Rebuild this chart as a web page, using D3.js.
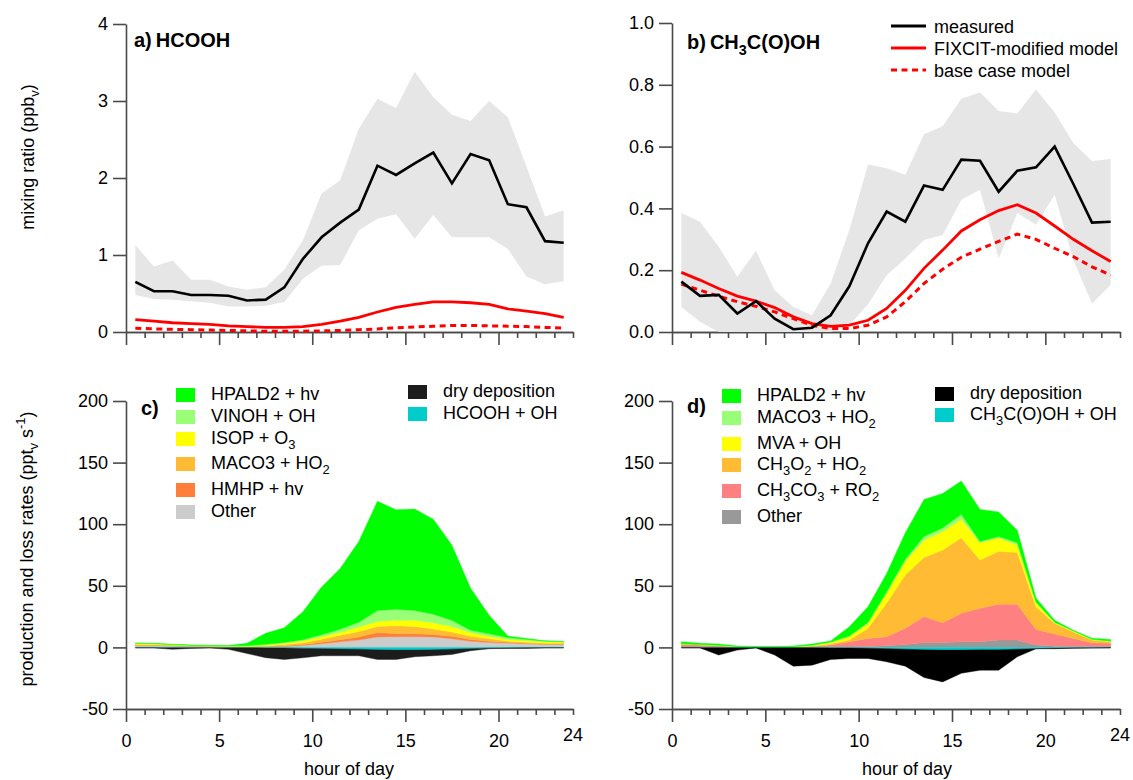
<html>
<head>
<meta charset="utf-8">
<script src="https://cdn.jsdelivr.net/npm/d3@7/dist/d3.min.js"></script>
<style>
  body { margin: 0; background: #fff; }
  text { font-family: Arial, "Liberation Sans", sans-serif; fill: #000; }
</style>
</head>
<body>
<svg id="chart" width="1133" height="780"></svg>
<script>
// hour of day (bin centres)
const hours = [0.5, 1.5, 2.5, 3.5, 4.5, 5.5, 6.5, 7.5, 8.5, 9.5, 10.5, 11.5,
               12.5, 13.5, 14.5, 15.5, 16.5, 17.5, 18.5, 19.5, 20.5, 21.5, 22.5, 23.5];

// a) HCOOH mixing ratio (ppbv)
const hcoohMeasured = [0.65, 0.53, 0.53, 0.48, 0.48, 0.47, 0.41, 0.42, 0.58, 0.95, 1.23, 1.42, 1.59, 2.16, 2.04, 2.19, 2.33, 1.93, 2.31, 2.23, 1.66, 1.62, 1.18, 1.16];
const hcoohUpper    = [1.13, 0.85, 0.93, 0.68, 0.68, 0.59, 0.55, 0.58, 0.81, 1.19, 1.80, 1.97, 2.64, 3.03, 2.91, 3.38, 3.05, 2.82, 2.74, 3.00, 2.79, 2.15, 1.50, 1.58];
const hcoohLower    = [0.48, 0.43, 0.42, 0.40, 0.38, 0.33, 0.33, 0.34, 0.39, 0.69, 0.86, 0.87, 1.32, 1.47, 1.53, 1.21, 1.52, 1.23, 1.23, 1.23, 1.08, 0.72, 0.62, 0.66];
const hcoohFixcit   = [0.16, 0.14, 0.12, 0.11, 0.10, 0.08, 0.07, 0.06, 0.06, 0.07, 0.10, 0.14, 0.19, 0.26, 0.32, 0.36, 0.39, 0.39, 0.38, 0.36, 0.30, 0.27, 0.24, 0.19];
const hcoohBase     = [0.05, 0.04, 0.035, 0.03, 0.025, 0.02, 0.015, 0.01, 0.01, 0.01, 0.015, 0.02, 0.03, 0.04, 0.055, 0.065, 0.075, 0.085, 0.085, 0.08, 0.075, 0.07, 0.06, 0.05];

// b) CH3C(O)OH mixing ratio (ppbv)
const aceticMeasured = [0.163, 0.117, 0.12, 0.06, 0.10, 0.043, 0.009, 0.014, 0.054, 0.148, 0.287, 0.39, 0.357, 0.474, 0.46, 0.558, 0.554, 0.454, 0.522, 0.533, 0.60, 0.479, 0.354, 0.357];
const aceticUpper    = [0.385, 0.357, 0.276, 0.179, 0.263, 0.135, 0.081, 0.054, 0.157, 0.33, 0.542, 0.53, 0.509, 0.64, 0.666, 0.755, 0.775, 0.715, 0.707, 0.785, 0.71, 0.612, 0.553, 0.56];
const aceticLower    = [0.081, 0.033, 0, 0, 0, 0, 0, 0, 0, 0.022, 0.09, 0.184, 0.238, 0.298, 0.314, 0.428, 0.46, 0.238, 0.385, 0.347, 0.444, 0.233, 0.092, 0.152];
const aceticFixcit   = [0.193, 0.168, 0.141, 0.116, 0.10, 0.079, 0.049, 0.027, 0.018, 0.022, 0.038, 0.076, 0.135, 0.206, 0.265, 0.327, 0.363, 0.393, 0.412, 0.385, 0.343, 0.30, 0.263, 0.228];
const aceticBase     = [0.155, 0.135, 0.116, 0.098, 0.083, 0.065, 0.043, 0.022, 0.011, 0.011, 0.022, 0.049, 0.098, 0.157, 0.203, 0.242, 0.268, 0.293, 0.317, 0.30, 0.271, 0.244, 0.211, 0.184];

// c) HCOOH production and loss rates (pptv s-1)
const cOther  = [1.5, 1.5, 1.2, 1.0, 0.8, 0.6, 0.5, 0.5, 0.8, 1.5, 3.0, 4.5, 6.0, 8.5, 8.7, 8.7, 8.5, 7.0, 5.0, 4.0, 3.5, 3.0, 2.5, 2.5];
const cHmhp   = [0.3, 0.3, 0.2, 0.1, 0.1, 0.1, 0.1, 0.2, 0.5, 0.8, 1.2, 1.8, 2.5, 3.5, 2.5, 2.3, 2.0, 2.0, 1.5, 1.0, 0.6, 0.4, 0.3, 0.3];
const cMaco3  = [0.5, 0.4, 0.3, 0.2, 0.2, 0.2, 0.2, 0.5, 1.0, 1.5, 2.5, 3.5, 4.5, 5.0, 6.4, 6.0, 4.5, 3.5, 2.5, 2.0, 1.0, 0.8, 0.6, 0.5];
const cIsop   = [1.0, 0.8, 0.5, 0.3, 0.3, 0.3, 0.4, 0.8, 1.0, 1.5, 2.0, 2.5, 3.5, 4.0, 4.4, 5.0, 5.0, 4.5, 3.0, 2.0, 1.4, 1.3, 1.2, 1.1];
const cVinoh  = [0.1, 0.1, 0.1, 0.1, 0.1, 0.1, 0.2, 0.5, 0.7, 1.0, 1.5, 2.5, 4.0, 9.0, 9.0, 8.0, 7.0, 5.0, 2.0, 2.0, 1.5, 1.0, 0.5, 0.2];
const cHpald2 = [0.1, 0.2, 0.2, 0.2, 0.2, 0.3, 2.0, 8.9, 12.0, 22.7, 38.8, 49.2, 65.5, 88.6, 80.8, 82.3, 77.0, 61.0, 34.0, 15.0, 1.2, 0.8, 0.3, 0.1];
const cOh     = [-0.3, -0.3, -0.3, -0.3, -0.3, -0.3, -0.3, -0.4, -0.5, -0.8, -1.0, -1.3, -1.5, -2.0, -2.2, -2.2, -2.0, -1.5, -1.0, -0.6, -0.4, -0.3, -0.3, -0.3];
const cDry    = [-0.1, -0.1, -1.3, -0.5, -0.1, -1.3, -4.7, -8.0, -9.3, -7.6, -5.8, -5.5, -5.3, -7.8, -7.6, -5.4, -4.8, -4.2, -1.7, -0.5, -0.4, -0.5, -0.1, -0.1];

// d) CH3C(O)OH production and loss rates (pptv s-1)
const dOther  = [0.3, 0.3, 0.2, 0.1, 0.1, 0.1, 0.1, 0.2, 0.3, 0.4, 0.5, 1.4, 2.4, 4.0, 4.0, 4.6, 4.6, 6.0, 6.0, 2.0, 1.0, 0.6, 0.5, 0.5];
const dCh3co3 = [2.1, 1.6, 1.2, 0.4, 0.4, 0.4, 0.4, 0.6, 1.6, 4.2, 6.8, 7.3, 13.1, 21.0, 16.0, 23.1, 27.1, 29.0, 29.0, 12.6, 9.9, 6.7, 3.3, 2.8];
const dCh3o2  = [0.2, 0.1, 0.1, 0.1, 0.05, 0.05, 0.1, 0.4, 1.1, 1.4, 8.2, 27.3, 43.5, 48.0, 59.0, 61.3, 39.3, 43.0, 42.0, 18.4, 8.6, 5.5, 2.2, 1.3];
const dMva    = [0.2, 0.2, 0.2, 0.1, 0.05, 0.05, 0.1, 0.4, 1.0, 2.7, 4.0, 8.0, 11.0, 14.0, 15.0, 15.0, 14.0, 11.0, 6.0, 3.0, 0.5, 0.4, 0.4, 0.4];
const dMaco3  = [0.2, 0.1, 0.1, 0.1, 0.05, 0.05, 0.1, 0.2, 0.3, 0.5, 0.8, 1.2, 1.5, 3.0, 3.0, 4.0, 1.0, 1.0, 2.0, 0.8, 0.5, 0.3, 0.2, 0.2];
const dHpald2 = [1.6, 1.0, 0.9, 0.3, 0.1, 0.1, 0.3, 0.9, 0.9, 7.6, 12.7, 14.8, 21.5, 30.0, 28.0, 27.0, 26.0, 20.0, 10.0, 3.2, 1.5, 0.5, 0.9, 1.3];
const dOh     = [-0.3, -0.3, -0.3, -0.3, -0.3, -0.3, -0.3, -0.3, -0.4, -0.5, -0.7, -1.0, -1.5, -2.0, -2.2, -2.2, -2.0, -2.0, -1.5, -1.0, -0.7, -0.5, -0.4, -0.3];
const dDry    = [-0.1, -0.1, -5.9, -1.9, -0.1, -5.9, -14.9, -14.1, -9.4, -8.5, -8.3, -10.7, -13.7, -22.4, -25.8, -18.8, -16.5, -16.5, -6.1, -0.1, -0.4, -0.1, -0.1, -0.1];

// tick labels
const xMajor = [0, 5, 10, 15, 20];
const ticksA = [0, 1, 2, 3, 4];
const ticksB = [0, 0.2, 0.4, 0.6, 0.8, 1.0];
const ticksCD = [-50, 0, 50, 100, 150, 200];

const svg = d3.select("#chart");
const axisColor = "#4a4a4a";
const plain = d => String(d);   // hyphen minus, as in the original

// text with _{sub} and ^{sup} parts
function richText(sel, str, size) {
    const parts = str.match(/_\{[^}]*\}|\^\{[^}]*\}|[^_^]+/g);
    let shift = 0;
    parts.forEach(p => {
        let dy = 0, txt = p, fs = size;
        if (p.startsWith("_{")) { txt = p.slice(2, -1); dy = size * 0.3; fs = size * 0.72; }
        else if (p.startsWith("^{")) { txt = p.slice(2, -1); dy = -size * 0.45; fs = size * 0.72; }
        sel.append("tspan").attr("dy", dy - shift).attr("font-size", fs).text(txt);
        shift = dy;
    });
    return sel;
}

function makeAxes(cfg) {
    const x = d3.scaleLinear().domain([0, 24]).range(cfg.xr);
    const y = d3.scaleLinear().domain(cfg.yd).range(cfg.yr);
    const yBottom = cfg.yr[0];

    // y axis
    const gy = svg.append("g")
        .attr("transform", `translate(${cfg.xr[0]},0)`)
        .call(d3.axisLeft(y).tickValues(cfg.yticks).tickSize(13).tickPadding(5)
            .tickSizeOuter(0).tickFormat(cfg.yfmt));
    // x axis, minor and major ticks
    const minor = d3.range(1, 25).filter(h => h % 5 !== 0);
    const gxm = svg.append("g")
        .attr("transform", `translate(0,${yBottom})`)
        .call(d3.axisBottom(x).tickValues(minor).tickSize(6).tickSizeOuter(0).tickFormat(""));
    const gx = svg.append("g")
        .attr("transform", `translate(0,${yBottom})`)
        .call(d3.axisBottom(x).tickValues(xMajor).tickSize(13).tickPadding(12)
            .tickSizeOuter(0).tickFormat(cfg.xlabels ? plain : ""));
    [gy, gxm, gx].forEach(g => {
        g.selectAll("path, line").attr("stroke", axisColor).attr("stroke-width", 1.6);
        g.selectAll("text").attr("font-size", 18).attr("fill", "#000")
            .attr("font-family", "Arial, 'Liberation Sans', sans-serif");
    });
    if (cfg.xlabels) {
        svg.append("text").attr("x", x(24)).attr("y", yBottom + 32)
            .attr("text-anchor", "middle").attr("font-size", 18).text("24");
        svg.append("text").attr("x", cfg.xTitleX).attr("y", 775)
            .attr("text-anchor", "middle").attr("font-size", 18).text("hour of day");
    }
    return { x, y };
}

// ---------- panels a and b ----------
function mixingPanel(cfg, measured, upper, lower, fixcit, base) {
    const { x, y } = makeAxes(cfg);
    const band = d3.area().x((d, i) => x(hours[i])).y0((d, i) => y(lower[i])).y1(d => y(d));
    svg.append("path").datum(upper).attr("d", band).attr("fill", "#e6e6e6");
    const line = d3.line().x((d, i) => x(hours[i])).y(d => y(d));
    svg.append("path").datum(base).attr("d", line).attr("fill", "none")
        .attr("stroke", "#ff0000").attr("stroke-width", 3).attr("stroke-dasharray", "6,4.5");
    svg.append("path").datum(fixcit).attr("d", line).attr("fill", "none")
        .attr("stroke", "#ff0000").attr("stroke-width", 2.8);
    svg.append("path").datum(measured).attr("d", line).attr("fill", "none")
        .attr("stroke", "#000").attr("stroke-width", 2.6).attr("stroke-linejoin", "miter");
}

mixingPanel({ xr: [126, 573], yd: [0, 4], yr: [332, 24], yticks: ticksA, yfmt: plain, xlabels: false },
    hcoohMeasured, hcoohUpper, hcoohLower, hcoohFixcit, hcoohBase);
mixingPanel({ xr: [672, 1120], yd: [0, 1], yr: [332, 23], yticks: ticksB, yfmt: d3.format(".1f"), xlabels: false },
    aceticMeasured, aceticUpper, aceticLower, aceticFixcit, aceticBase);

richText(svg.append("text").attr("x", 134).attr("y", 47).attr("font-weight", "bold"), "a)\u2009HCOOH", 20);
richText(svg.append("text").attr("x", 687).attr("y", 49).attr("font-weight", "bold"), "b)\u2009CH_{3}C(O)OH", 20);

richText(svg.append("text").attr("transform", "translate(34,157) rotate(-90)")
    .attr("text-anchor", "middle"), "mixing ratio (ppb_{v})", 18);

// legend b
const legendB = [
    { label: "measured", color: "#000", dash: null, y: 26 },
    { label: "FIXCIT-modified model", color: "#ff0000", dash: null, y: 48 },
    { label: "base case model", color: "#ff0000", dash: "6,4.5", y: 70 }
];
legendB.forEach(d => {
    svg.append("line").attr("x1", 891).attr("x2", 926).attr("y1", d.y).attr("y2", d.y)
        .attr("stroke", d.color).attr("stroke-width", 3).attr("stroke-dasharray", d.dash);
    svg.append("text").attr("x", 934).attr("y", d.y + 6.5).attr("font-size", 18).text(d.label);
});

// ---------- panels c and d ----------
function ratePanel(cfg, series) {
    const { x, y } = makeAxes(cfg);
    const rows = hours.map((h, i) => {
        const r = { hour: h };
        series.forEach(s => { r[s.key] = s.values[i]; });
        return r;
    });
    const stack = d3.stack().keys(series.map(s => s.key))
        .offset(d3.stackOffsetDiverging).order(d3.stackOrderNone);
    const layers = stack(rows);
    const area = d3.area().x(d => x(d.data.hour)).y0(d => y(d[0])).y1(d => y(d[1]));
    svg.append("g").selectAll("path").data(layers).join("path")
        .attr("d", area)
        .attr("fill", (d, i) => series[i].color)
        .attr("stroke", (d, i) => series[i].color)
        .attr("stroke-width", 0.4);
}

const seriesC = [
    { key: "other", label: "Other", color: "#cccccc", values: cOther },
    { key: "hmhp", label: "HMHP + hv", color: "#ff7f3a", values: cHmhp },
    { key: "maco3", label: "MACO3 + HO_{2}", color: "#ffbb33", values: cMaco3 },
    { key: "isop", label: "ISOP + O_{3}", color: "#ffff00", values: cIsop },
    { key: "vinoh", label: "VINOH + OH", color: "#99ff77", values: cVinoh },
    { key: "hpald2", label: "HPALD2 + hv", color: "#00ff00", values: cHpald2 },
    { key: "oh", label: "HCOOH + OH", color: "#00cccc", values: cOh },
    { key: "dry", label: "dry deposition", color: "#1c1c1c", values: cDry }
];
const seriesD = [
    { key: "other", label: "Other", color: "#999999", values: dOther },
    { key: "ch3co3", label: "CH_{3}CO_{3} + RO_{2}", color: "#ff8080", values: dCh3co3 },
    { key: "ch3o2", label: "CH_{3}O_{2} + HO_{2}", color: "#ffbb33", values: dCh3o2 },
    { key: "mva", label: "MVA + OH", color: "#ffff00", values: dMva },
    { key: "maco3", label: "MACO3 + HO_{2}", color: "#99ff77", values: dMaco3 },
    { key: "hpald2", label: "HPALD2 + hv", color: "#00ff00", values: dHpald2 },
    { key: "oh", label: "CH_{3}C(O)OH + OH", color: "#00cccc", values: dOh },
    { key: "dry", label: "dry deposition", color: "#000000", values: dDry }
];

ratePanel({ xr: [126, 573], yd: [-50, 200], yr: [709, 401], yticks: ticksCD, yfmt: plain, xlabels: true, xTitleX: 349 }, seriesC);
ratePanel({ xr: [672, 1120], yd: [-50, 200], yr: [709, 401], yticks: ticksCD, yfmt: plain, xlabels: true, xTitleX: 907 }, seriesD);

svg.append("text").attr("x", 141).attr("y", 415).attr("font-weight", "bold").attr("font-size", 20).text("c)");
svg.append("text").attr("x", 687).attr("y", 413).attr("font-weight", "bold").attr("font-size", 20).text("d)");

richText(svg.append("text").attr("transform", "translate(33,549) rotate(-90)")
    .attr("text-anchor", "middle"), "production and loss rates (ppt_{v} s^{-1})", 18);

// legends c, d: key order and row positions (swatch top, text baseline)
function rateLegend(series, keys, rowsY, swX, txtX) {
    keys.forEach((k, i) => {
        const s = series.find(d => d.key === k);
        svg.append("rect").attr("x", swX).attr("y", rowsY[i]).attr("width", 19).attr("height", 14)
            .attr("fill", s.color);
        richText(svg.append("text").attr("x", txtX).attr("y", rowsY[i] + 12).attr("font-size", 18), s.label, 18);
    });
}
rateLegend(seriesC, ["hpald2", "vinoh", "isop", "maco3", "hmhp", "other"], [388, 410, 432, 457, 483, 505], 176, 211);
rateLegend(seriesC, ["dry", "oh"], [385, 407], 408, 443);
rateLegend(seriesD, ["hpald2", "maco3", "mva", "ch3o2", "ch3co3", "other"], [389, 411, 437, 458, 484, 510], 722, 757);
rateLegend(seriesD, ["dry", "oh"], [387, 408], 935, 970);
</script>
</body>
</html>
